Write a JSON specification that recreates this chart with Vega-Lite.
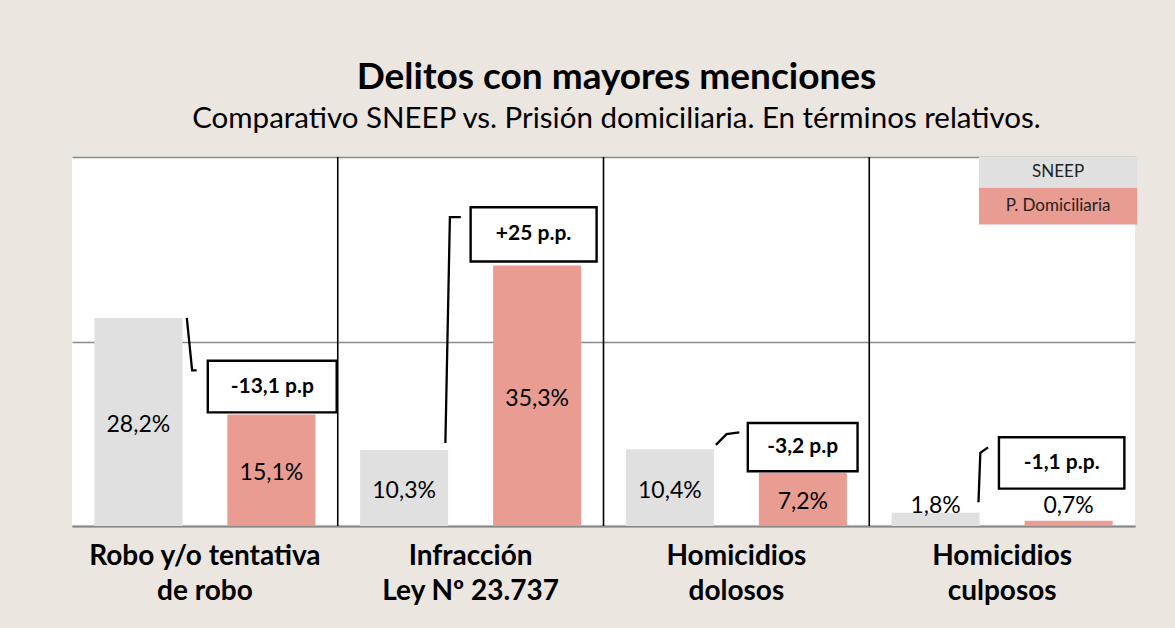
{
  "$schema": "https://vega.github.io/schema/vega-lite/v6.json",
  "width": 1063,
  "height": 369,
  "autosize": {"type": "none"},
  "padding": {"left": 72, "top": 157, "right": 40, "bottom": 102},
  "background": "#ebe6e0",
  "config": {"view": {"fill": "white", "stroke": null}, "font": "Lato"},
  "title": {
    "text": "Delitos con mayores menciones",
    "subtitle": "Comparativo SNEEP vs. Prisión domiciliaria. En términos relativos.",
    "anchor": "middle",
    "frame": "group",
    "dx": 13,
    "font": "Lato",
    "fontSize": 37,
    "fontWeight": "bold",
    "color": "black",
    "subtitleFont": "Lato",
    "subtitleFontSize": 29.5,
    "subtitleColor": "black",
    "subtitlePadding": 8,
    "offset": 22
  },
  "datasets": {
    "bars": [
      {"delito": "Robo y/o tentativa|de robo", "serie": "SNEEP", "valor": 28.2},
      {"delito": "Robo y/o tentativa|de robo", "serie": "P. Domiciliaria", "valor": 15.1},
      {"delito": "Infracción|Ley Nº 23.737", "serie": "SNEEP", "valor": 10.3},
      {"delito": "Infracción|Ley Nº 23.737", "serie": "P. Domiciliaria", "valor": 35.3},
      {"delito": "Homicidios|dolosos", "serie": "SNEEP", "valor": 10.4},
      {"delito": "Homicidios|dolosos", "serie": "P. Domiciliaria", "valor": 7.2},
      {"delito": "Homicidios|culposos", "serie": "SNEEP", "valor": 1.8},
      {"delito": "Homicidios|culposos", "serie": "P. Domiciliaria", "valor": 0.7}
    ],
    "seps": [{"limite": 1}, {"limite": 2}, {"limite": 3}],
    "boxes": [
      {"texto": "-13,1 p.p", "bx1": 0.511, "bx2": 0.996, "by1": 22.4, "by2": 15.4},
      {"texto": "+25 p.p.", "bx1": 1.5, "bx2": 1.974, "by1": 43.19, "by2": 35.83},
      {"texto": "-3,2 p.p", "bx1": 2.543, "bx2": 2.956, "by1": 13.96, "by2": 7.42},
      {"texto": "-1,1 p.p.", "bx1": 3.488, "bx2": 3.96, "by1": 12.02, "by2": 5.07}
    ],
    "leaders": [
      {"anot": "a", "orden": 1, "lx": 0.432, "ly": 28.21},
      {"anot": "a", "orden": 2, "lx": 0.452, "ly": 21.08},
      {"anot": "a", "orden": 3, "lx": 0.469, "ly": 21.08},
      {"anot": "b", "orden": 1, "lx": 1.405, "ly": 11.26},
      {"anot": "b", "orden": 2, "lx": 1.422, "ly": 41.84},
      {"anot": "b", "orden": 3, "lx": 1.463, "ly": 41.84},
      {"anot": "c", "orden": 1, "lx": 2.423, "ly": 10.99},
      {"anot": "c", "orden": 2, "lx": 2.463, "ly": 12.45},
      {"anot": "c", "orden": 3, "lx": 2.511, "ly": 12.69},
      {"anot": "d", "orden": 1, "lx": 3.411, "ly": 3.22},
      {"anot": "d", "orden": 2, "lx": 3.418, "ly": 9.91},
      {"anot": "d", "orden": 3, "lx": 3.447, "ly": 10.66}
    ],
    "leyenda": [
      {"serie": "SNEEP", "lx1": 3.413, "lx2": 4.008, "ly1": 50.0, "ly2": 45.85},
      {"serie": "P. Domiciliaria", "lx1": 3.413, "lx2": 4.008, "ly1": 45.85, "ly2": 40.84}
    ]
  },
  "layer": [
    {
      "data": {"name": "bars"},
      "transform": [
        {"calculate": "replace(format(datum.valor, '.1f'), '.', ',') + '%'", "as": "etiqueta"},
        {"calculate": "max(datum.valor / 2, 3.1)", "as": "ypos"}
      ],
      "encoding": {
        "x": {
          "field": "delito",
          "type": "nominal",
          "sort": null,
          "title": null,
          "scale": {"paddingInner": 0, "paddingOuter": 0},
          "axis": {
            "orient": "bottom",
            "ticks": false,
            "domain": true,
            "domainColor": "#8a8a8a",
            "domainWidth": 2,
            "labelFont": "Lato",
            "labelFontSize": 28,
            "labelFontWeight": "bold",
            "labelColor": "black",
            "labelExpr": "split(datum.label, '|')",
            "labelLineHeight": 35,
            "labelPadding": 16,
            "labelBaseline": "top",
            "labelAngle": 0,
            "labelLimit": 500,
            "labelOverlap": false
          }
        },
        "xOffset": {
          "field": "serie",
          "type": "nominal",
          "sort": ["SNEEP", "P. Domiciliaria"],
          "scale": {"paddingInner": 0.338, "paddingOuter": 0.168}
        }
      },
      "layer": [
        {
          "mark": {"type": "bar"},
          "encoding": {
            "y": {
              "field": "valor",
              "type": "quantitative",
              "title": null,
              "scale": {"domain": [0, 50], "nice": false},
              "axis": {
                "values": [0, 25, 50],
                "grid": true,
                "gridColor": "#8a8a8a",
                "gridWidth": 1.4,
                "labels": false,
                "ticks": false,
                "domain": false
              }
            },
            "color": {
              "field": "serie",
              "type": "nominal",
              "scale": {"domain": ["SNEEP", "P. Domiciliaria"], "range": ["#e0e0e0", "#e99c92"]},
              "legend": null
            }
          }
        },
        {
          "mark": {"type": "text", "fontSize": 23, "font": "Lato", "baseline": "middle", "dy": 3, "color": "black"},
          "encoding": {
            "y": {"field": "ypos", "type": "quantitative", "title": null},
            "text": {"field": "etiqueta", "type": "nominal"}
          }
        }
      ]
    },
    {
      "layer": [
        {
          "data": {"name": "seps"},
          "mark": {"type": "rule", "color": "black", "strokeWidth": 1.6},
          "encoding": {
            "x": {"field": "limite", "type": "quantitative", "axis": null, "scale": {"domain": [0, 4], "nice": false, "zero": false}}
          }
        },
        {
          "data": {"name": "leaders"},
          "mark": {"type": "line", "color": "black", "strokeWidth": 2.3},
          "encoding": {
            "x": {"field": "lx", "type": "quantitative", "axis": null},
            "y": {"field": "ly", "type": "quantitative", "title": null},
            "detail": {"field": "anot", "type": "nominal"},
            "order": {"field": "orden", "type": "quantitative"}
          }
        },
        {
          "data": {"name": "boxes"},
          "mark": {"type": "rect", "fill": "white", "stroke": "black", "strokeWidth": 2.4},
          "encoding": {
            "x": {"field": "bx1", "type": "quantitative", "axis": null},
            "x2": {"field": "bx2"},
            "y": {"field": "by1", "type": "quantitative", "title": null},
            "y2": {"field": "by2"}
          }
        },
        {
          "data": {"name": "boxes"},
          "transform": [
            {"calculate": "(datum.bx1 + datum.bx2) / 2", "as": "cx"},
            {"calculate": "(datum.by1 + datum.by2) / 2", "as": "cy"}
          ],
          "mark": {"type": "text", "font": "Lato", "fontSize": 21, "fontWeight": "bold", "baseline": "middle", "color": "black"},
          "encoding": {
            "x": {"field": "cx", "type": "quantitative", "axis": null},
            "y": {"field": "cy", "type": "quantitative", "title": null},
            "text": {"field": "texto", "type": "nominal"}
          }
        },
        {
          "data": {"name": "leyenda"},
          "mark": {"type": "rect"},
          "encoding": {
            "x": {"field": "lx1", "type": "quantitative", "axis": null},
            "x2": {"field": "lx2"},
            "y": {"field": "ly1", "type": "quantitative", "title": null},
            "y2": {"field": "ly2"},
            "color": {"field": "serie", "type": "nominal", "legend": null}
          }
        },
        {
          "data": {"name": "leyenda"},
          "transform": [
            {"calculate": "(datum.lx1 + datum.lx2) / 2", "as": "cx"},
            {"calculate": "(datum.ly1 + datum.ly2) / 2", "as": "cy"}
          ],
          "mark": {"type": "text", "font": "Lato", "fontSize": 17, "baseline": "middle", "color": "#222222"},
          "encoding": {
            "x": {"field": "cx", "type": "quantitative", "axis": null},
            "y": {"field": "cy", "type": "quantitative", "title": null},
            "text": {"field": "serie", "type": "nominal"}
          }
        }
      ]
    }
  ],
  "resolve": {"scale": {"x": "independent"}, "axis": {"x": "independent"}}
}
